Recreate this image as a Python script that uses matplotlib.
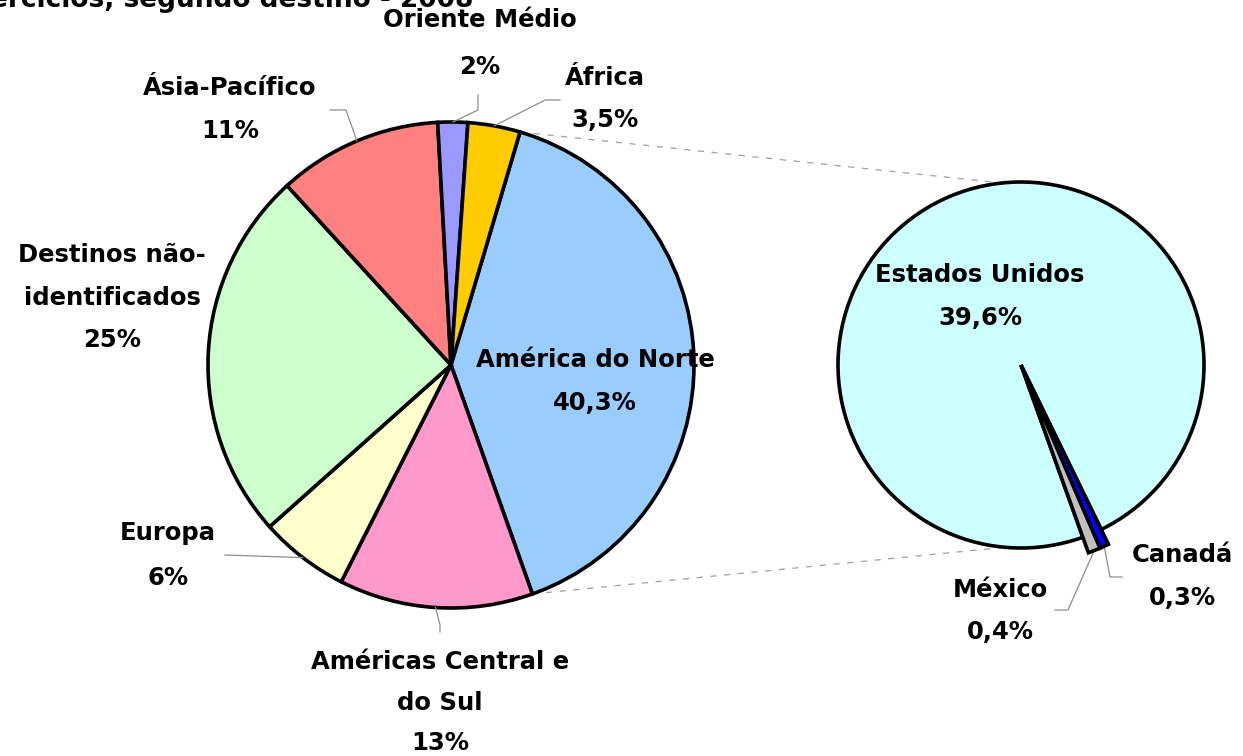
import numpy as np
import matplotlib
matplotlib.use("Agg")
import matplotlib.pyplot as plt

W, H = 1243, 756

# ---- data ----
regions = ["América do Norte", "Américas Central e do Sul", "Europa",
           "Destinos não-identificados", "Ásia-Pacífico", "Oriente Médio", "África"]
region_share = [40.3, 13, 6, 25, 11, 2, 3.5]
region_labels = ["40,3%", "13%", "6%", "25%", "11%", "2%", "3,5%"]
region_colors = ["#99CCFF", "#FF99CC", "#FFFFCC", "#CCFFCC", "#FF8080", "#9999FF", "#FFCC00"]

na_countries = ["Canadá", "México", "Estados Unidos"]
na_share = [0.3, 0.4, 39.6]
na_labels = ["0,3%", "0,4%", "39,6%"]
na_colors = ["#0000FF", "#C0C0C0", "#CCFFFF"]

title_text = "Exercícios, segundo destino - 2008"

plt.rcParams['font.family'] = ['DejaVu Sans']
FS = 17.5

fig = plt.figure(figsize=(W / 100, H / 100), dpi=100)
ax = fig.add_axes([0, 0, 1, 1])

c1 = (451, H - 365); r1 = 243
c2 = (1021, H - 365); r2 = 183
edge = dict(edgecolor="black", linewidth=2.6)

w1, _ = ax.pie(region_share, colors=region_colors, startangle=73.5, counterclock=False,
               center=c1, radius=r1, wedgeprops=edge)
w2, _ = ax.pie(na_share, colors=na_colors, startangle=-64.0, counterclock=False,
               center=c2, radius=r2, wedgeprops=edge)
for w in w2[:2]:
    w.set_radius(r2 * 1.09)
    w.set_zorder(3)

ax.set_xlim(0, W)
ax.set_ylim(0, H)
ax.set_aspect('equal')
ax.axis('off')


def pt(c, r, ang):
    a = np.deg2rad(ang)
    return c[0] + r * np.cos(a), c[1] + r * np.sin(a)


def mid(w):
    return (w.theta1 + w.theta2) / 2


def lbl(x, ys, lines):
    for y, s in zip(ys, lines):
        ax.text(x, H - y, s, ha='center', va='center', fontsize=FS, fontweight='bold', color='black')


def leader(start, pts):
    xs = [start[0]] + [p[0] for p in pts]
    ys = [start[1]] + [H - p[1] for p in pts]
    ax.plot(xs, ys, color="#8C8C8C", lw=0.9, zorder=1)


# dashed connectors between pies (from América do Norte wedge edges)
na = w1[0]
p_top = pt(c1, r1, na.theta2)
p_bot = pt(c1, r1, na.theta1)
q_top = pt(c2, r2, 96)
q_bot = pt(c2, r2, -95)
ax.plot([p_top[0], q_top[0]], [p_top[1], q_top[1]], color="#A0A0A0", lw=0.9, ls=(0, (5, 6)), zorder=0)
ax.plot([p_bot[0], q_bot[0]], [p_bot[1], q_bot[1]], color="#A0A0A0", lw=0.9, ls=(0, (5, 6)), zorder=0)

# labels main pie
lbl(595, [360, 403], [regions[0], region_labels[0]])
lbl(440, [662, 703, 743], ["Américas Central e", "do Sul", region_labels[1]])
leader(pt(c1, r1, mid(w1[1])), [(440, 625), (440, 632)])
lbl(168, [533, 578], [regions[2], region_labels[2]])
leader(pt(c1, r1, mid(w1[2])), [(225, 555)])
lbl(112, [255, 298, 340], ["Destinos não-", "identificados", region_labels[3]])
lbl(230, [88, 131], [regions[4], region_labels[4]])
leader(pt(c1, r1, mid(w1[4])), [(346, 110), (330, 110)])
lbl(480, [20, 67], [regions[5], region_labels[5]])
leader(pt(c1, r1, mid(w1[5])), [(478, 110), (478, 95)])
lbl(605, [78, 120], [regions[6], region_labels[6]])
leader(pt(c1, r1, mid(w1[6])), [(545, 100), (560, 100)])

# labels second pie
lbl(980, [275, 318], [na_countries[2], na_labels[2]])
lbl(1182, [555, 598], [na_countries[0], na_labels[0]])
leader(pt(c2, r2 * 1.09, mid(w2[0])), [(1110, 577), (1122, 577)])
lbl(1000, [590, 632], [na_countries[1], na_labels[1]])
leader(pt(c2, r2 * 1.09, mid(w2[1])), [(1068, 610), (1055, 610)])

# title (cut off at top of the image, as in the source)
ax.text(473, H - 7, title_text, ha='right', va='baseline', fontsize=19, fontweight='bold',
        color='black', clip_on=False)

fig.savefig("out.png", dpi=100)
